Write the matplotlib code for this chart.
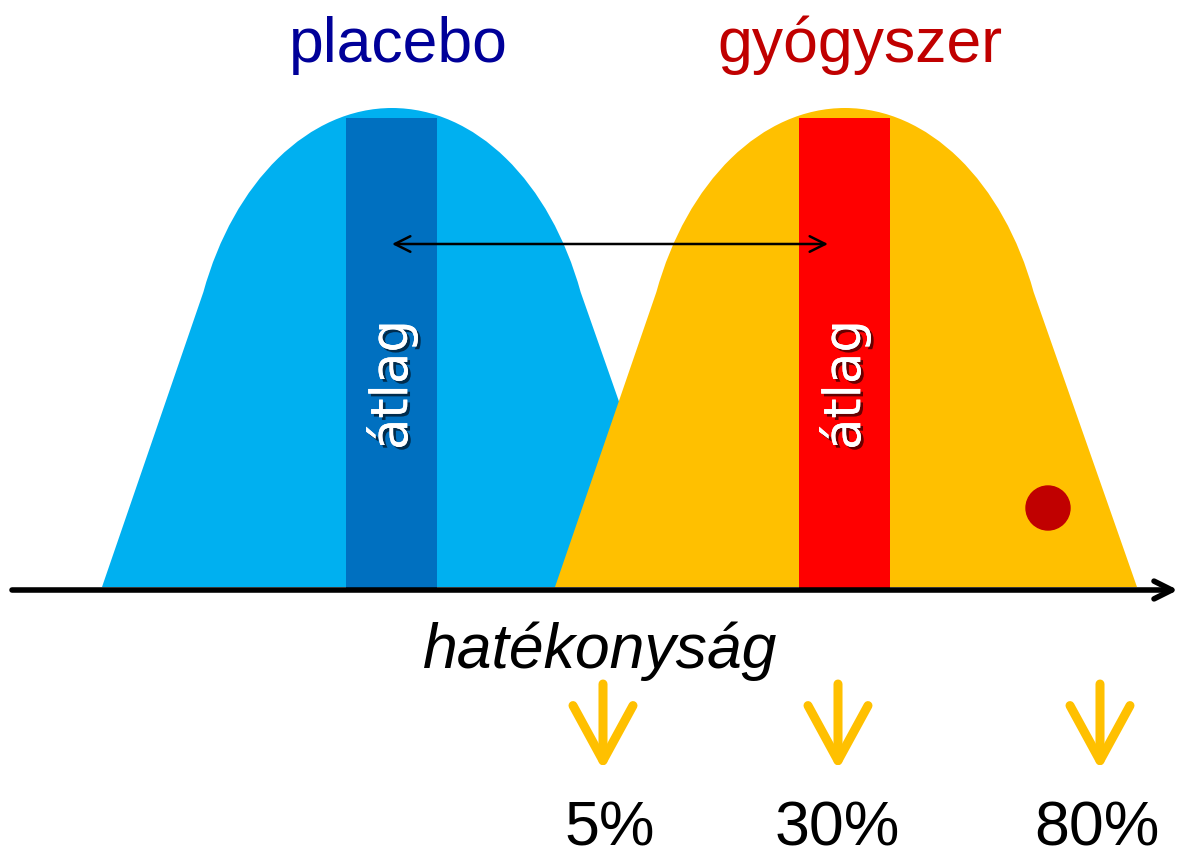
# -*- coding: utf-8 -*-
# Placebo vs gyógyszer hatékonysága - sematikus ábra

import numpy as np
import matplotlib
matplotlib.use("Agg")
import matplotlib.pyplot as plt
import matplotlib.patheffects as pe
from matplotlib.path import Path
from matplotlib.transforms import Affine2D
from matplotlib.patches import PathPatch, Rectangle, Circle

# ---- data ----
groups = ["placebo", "gyógyszer"]
group_centers = [392, 845]            # átlag helye a hatékonyság tengelyen
title_x = [398, 860]
band_label = "átlag"
axis_label = "hatékonyság"

# eloszlás alakja - képről leolvasva
dome_top_y = 108
dome_center_y = 400
dome_half_width = 203
knee_y = 292
base_left_dx = -290
base_right_dx = 292

marker_x, marker_y = 1048, 508        # egy beteg
pct_labels = ["5%", "30%", "80%"]
pct_x = [603, 838, 1100]
pct_label_x = [610, 837, 1097]

# ---- styles ----
fill_colors = ["#00B0F0", "#FFC000"]
band_colors = ["#0070C0", "#FF0000"]
title_colors = ["#000099", "#C00000"]
BASE_Y = 588


def dome_path(cx):
    b = dome_center_y - dome_top_y
    t0 = np.degrees(np.arcsin((dome_center_y - knee_y) / b))
    arc = Path.arc(t0, 180 - t0)
    arc = arc.transformed(Affine2D().scale(dome_half_width, -b).translate(cx, dome_center_y))
    verts = list(arc.vertices) + [(cx + base_left_dx, BASE_Y - 1), (cx + base_right_dx, BASE_Y - 1),
                                  tuple(arc.vertices[0])]
    codes = list(arc.codes) + [Path.LINETO, Path.LINETO, Path.CLOSEPOLY]
    return Path(verts, codes)


def main():
    fig = plt.figure(figsize=(11.8, 8.52), dpi=100)
    ax = fig.add_axes([0, 0, 1, 1])
    ax.set_xlim(0, 1180)
    ax.set_ylim(852, 0)
    ax.axis("off")

    for i, cx in enumerate(group_centers):
        ax.add_patch(PathPatch(dome_path(cx), facecolor=fill_colors[i],
                               edgecolor="none", zorder=1 + 2 * i))
        ax.add_patch(Rectangle((cx - 46, 118), 91, BASE_Y - 118, facecolor=band_colors[i],
                               edgecolor="none", zorder=2 + 2 * i))
        ax.text(cx, 385, band_label, rotation=90, ha="center", va="center", color="white",
                fontsize=37, family="DejaVu Sans", zorder=6,
                path_effects=[pe.withSimplePatchShadow(offset=(2, -2), shadow_rgbFace="black", alpha=0.6),
                              pe.Normal()])
        ax.text(title_x[i], 62, groups[i], ha="center", va="baseline", color=title_colors[i],
                fontsize=45, family="Liberation Sans")

    ax.add_patch(Circle((marker_x, marker_y), 22, color="#C00000", zorder=7))

    # átlagok közti különbség
    ax.annotate("", xy=(828, 244), xytext=(392, 244),
                arrowprops=dict(arrowstyle="<->", lw=1.8, color="black",
                                mutation_scale=28, shrinkA=0, shrinkB=0), zorder=8)

    # tengely
    ax.annotate("", xy=(1178, 590), xytext=(12, 590),
                arrowprops=dict(arrowstyle="->", lw=4, color="black",
                                mutation_scale=32, shrinkA=0, shrinkB=0), zorder=9)
    ax.text(600, 668, axis_label, ha="center", va="baseline", style="italic",
            fontsize=45, family="Liberation Sans")

    for x, lx, lab in zip(pct_x, pct_label_x, pct_labels):
        ax.annotate("", xy=(x, 770), xytext=(x, 684),
                    arrowprops=dict(arrowstyle="->, head_length=0.55, head_width=0.3", lw=6.5,
                                    color="#FFC000", mutation_scale=72, shrinkA=0, shrinkB=0,
                                    capstyle="round", joinstyle="round"))
        ax.text(lx, 846, lab, ha="center", va="baseline", fontsize=45, family="Liberation Sans")

    fig.savefig("out.png", dpi=100)


if __name__ == "__main__":
    main()
